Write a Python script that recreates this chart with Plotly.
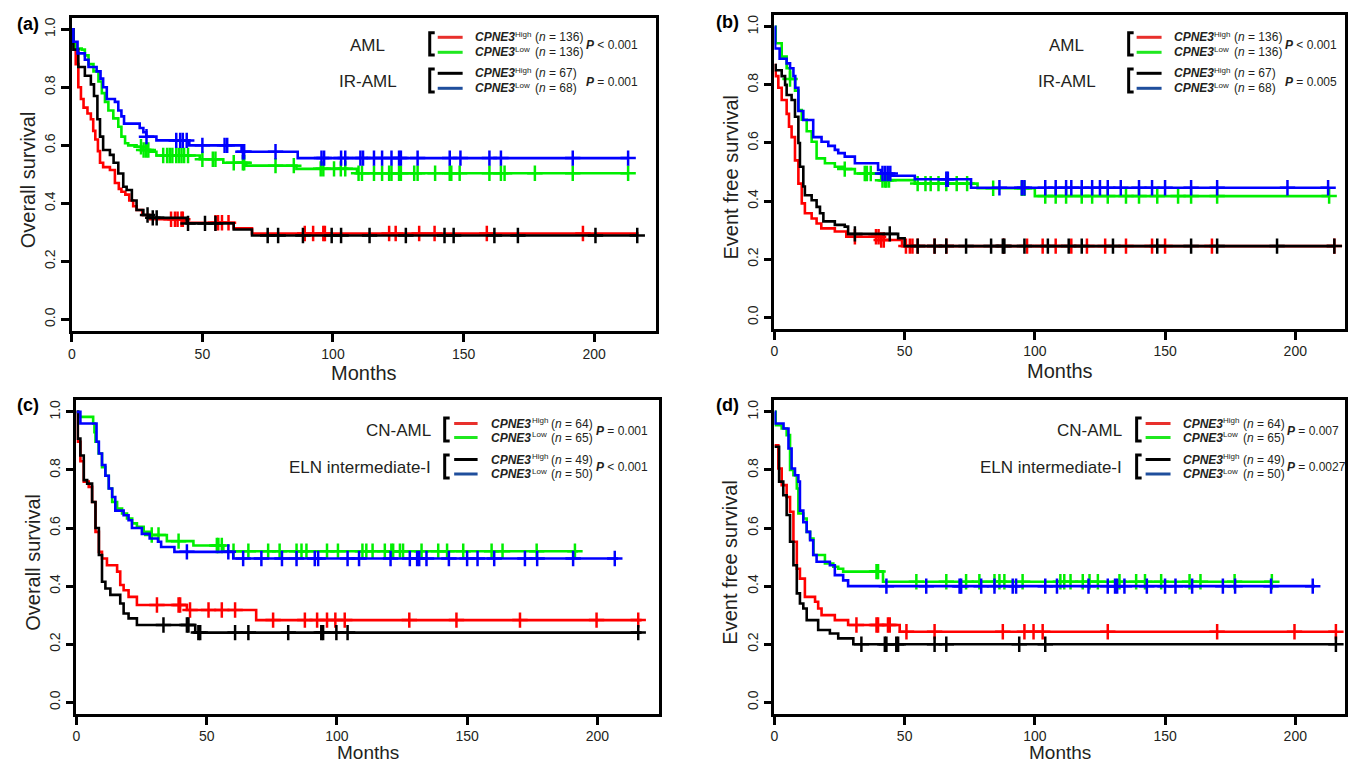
import numpy as np
import plotly.graph_objects as go

# ---------------- data ----------------
X_TICKS = [0, 50, 100, 150, 200]
Y_TICKS = [0.0, 0.2, 0.4, 0.6, 0.8, 1.0]
Y_TICK_TEXT = ["0.0", "0.2", "0.4", "0.6", "0.8", "1.0"]

# Panel (a) Overall survival, AML / IR-AML
A_RED_T = [0, 0.5, 1.5, 2.5, 3.5, 4.5, 6, 7.3, 8.2, 9, 10, 10.8, 12, 14.6, 16.5, 18, 19, 20.5, 22, 23.5, 24.8, 27, 30, 43, 62, 69]
A_RED_S = [1.0, 0.95, 0.88, 0.80, 0.76, 0.73, 0.71, 0.69, 0.65, 0.62, 0.58, 0.54, 0.525, 0.515, 0.47, 0.45, 0.44, 0.43, 0.41, 0.39, 0.377, 0.36, 0.345, 0.333, 0.314, 0.296]
A_RED_C = [38, 39.5, 40.5, 42, 42.5, 55, 56, 57.5, 60, 89.2, 92.4, 96.3, 96.9, 121.5, 124, 133, 138.9, 158.9, 195.7]
A_RED_END = 217

A_GREEN_T = [0, 0.6, 1.3, 3.8, 5, 6.4, 8.3, 10.2, 11.5, 12.7, 14, 15.9, 17.8, 19, 20.4, 21.6, 24.8, 26.7, 30, 32.4, 49, 58, 66.8, 86, 109.2]
A_GREEN_S = [1.0, 0.95, 0.934, 0.93, 0.91, 0.88, 0.855, 0.82, 0.78, 0.75, 0.72, 0.693, 0.664, 0.63, 0.607, 0.60, 0.595, 0.584, 0.578, 0.565, 0.552, 0.54, 0.53, 0.519, 0.504]
A_GREEN_C = [26.5, 27.5, 28.5, 29.3, 35, 36.5, 37.5, 38.5, 40, 41, 42, 43, 44.5, 50, 54, 55, 62, 65.5, 66, 78, 85, 95.3, 96.3,
             100.4, 103, 104.7, 109.8, 111.1, 115.7, 118.8, 121.5, 122.4, 125.3, 126, 131.1, 132.4, 139.1, 144.7, 145.3,
             148.5, 159.9, 164.3, 165.7, 177.3, 191.8, 213]
A_GREEN_END = 213

A_BLACK_T = [0, 0.6, 2.5, 5, 7.3, 8.5, 9.8, 10.8, 12, 14.6, 16, 17.8, 19.7, 21, 23, 24.8, 27.4, 29.5, 44, 62, 69]
A_BLACK_S = [1.0, 0.93, 0.87, 0.84, 0.81, 0.77, 0.69, 0.63, 0.584, 0.567, 0.54, 0.503, 0.457, 0.446, 0.41, 0.377, 0.36, 0.35, 0.331, 0.31, 0.289]
A_BLACK_C = [29, 31, 32.5, 44.5, 51, 55, 75, 79, 88.5, 99.5, 103.1, 114, 127.9, 142.7, 146.2, 161.8, 170.8, 200.5, 216.5]
A_BLACK_END = 216.5

A_BLUE_T = [0, 0.6, 2.2, 5, 6.4, 9.5, 11, 12, 13.4, 16.5, 17.8, 19, 20, 26, 27.4, 28.5, 32.4, 45, 65, 86.5]
A_BLUE_S = [1.0, 0.957, 0.917, 0.895, 0.87, 0.855, 0.83, 0.80, 0.76, 0.75, 0.72, 0.70, 0.675, 0.66, 0.645, 0.63, 0.617, 0.60, 0.578, 0.556]
A_BLUE_C = [28.6, 40, 41.5, 42.5, 44, 50, 58.5, 59.5, 65.5, 66, 78, 95.6, 96.6, 103.1, 104.7, 110.5, 111.5, 115.7, 118.8,
            122.4, 125.3, 126, 132.4, 144.7, 148.8, 159.9, 164.3, 191.8, 213]
A_BLUE_END = 213

# Panel (b) Event free survival, AML / IR-AML
B_RED_T = [0, 0.5, 1.5, 2.8, 4.7, 5.6, 6.6, 7.9, 9.2, 10.5, 11.7, 14.3, 16.2, 18, 23.2, 27.6, 41, 49]
B_RED_S = [0.868, 0.83, 0.79, 0.748, 0.70, 0.656, 0.62, 0.54, 0.46, 0.392, 0.358, 0.34, 0.323, 0.306, 0.295, 0.277, 0.266, 0.245]
B_RED_C = [30.9, 39, 40, 41, 42, 50.5, 52, 53, 55, 61.5, 66, 88, 97, 103, 108, 114, 120, 127, 135, 145, 150, 168, 215]
B_RED_END = 215

B_GREEN_T = [0, 0.5, 2.8, 4.7, 6, 7.9, 9.2, 10.5, 12.4, 14.3, 16.2, 19.4, 23.2, 27, 30.9, 41, 53.9, 78, 100]
B_GREEN_S = [1.0, 0.943, 0.897, 0.857, 0.82, 0.78, 0.713, 0.68, 0.64, 0.604, 0.547, 0.53, 0.518, 0.51, 0.495, 0.472, 0.46, 0.444, 0.417]
B_GREEN_C = [6, 27, 34.7, 35.5, 37, 41.5, 42.5, 43, 44, 55, 58, 60, 63, 66, 70, 74, 84, 95, 96, 104, 108, 112, 118, 122,
             128, 135, 140, 147, 155, 160, 170, 213]
B_GREEN_END = 213

B_BLACK_T = [0, 0.5, 2.8, 4.1, 4.7, 6.6, 7.9, 9.2, 9.8, 11.1, 11.7, 14.3, 16.2, 17.5, 18.8, 23.2, 27, 28.3, 47.5, 50]
B_BLACK_S = [0.868, 0.85, 0.83, 0.80, 0.765, 0.748, 0.69, 0.60, 0.518, 0.45, 0.42, 0.403, 0.38, 0.358, 0.33, 0.318, 0.312, 0.287, 0.272, 0.245]
B_BLACK_C = [30.9, 44.3, 55, 61.5, 66, 73.6, 83.2, 87.7, 88.3, 96, 105, 113, 118, 130, 147, 160, 170, 193, 215]
B_BLACK_END = 215

B_BLUE_T = [0, 0.3, 2, 4.7, 6, 7.3, 8, 9.2, 11.1, 14.9, 18.1, 20.7, 23.2, 24.5, 27, 30.9, 39.8, 41, 45, 53.9, 75.5]
B_BLUE_S = [1.0, 0.925, 0.89, 0.874, 0.857, 0.83, 0.79, 0.71, 0.679, 0.62, 0.604, 0.59, 0.576, 0.565, 0.553, 0.53, 0.507, 0.495, 0.487, 0.475, 0.446]
B_BLUE_C = [41.5, 42.5, 43.5, 44.5, 66, 66.6, 86.4, 95, 96, 104, 108, 112, 114, 118, 122, 125, 128, 133, 140, 145, 150,
            160, 170, 197, 212.6]
B_BLUE_END = 212.6

# Panel (c) Overall survival, CN-AML / ELN intermediate-I
C_RED_T = [0, 0.5, 1.5, 2.8, 4.7, 6, 7.3, 8.6, 9.8, 11.7, 15.6, 16.8, 18.1, 20, 23.2, 42.4, 69]
C_RED_S = [1.0, 0.897, 0.83, 0.76, 0.742, 0.69, 0.587, 0.518, 0.495, 0.472, 0.45, 0.404, 0.386, 0.363, 0.335, 0.318, 0.283]
C_RED_C = [30.9, 39.2, 39.8, 43.6, 50.7, 55.8, 60.9, 75.5, 87.7, 92.4, 96.2, 99.4, 103, 127.8, 145.9, 170.3, 199.7, 215.7]
C_RED_END = 217

C_GREEN_T = [0, 0.9, 6.4, 6.9, 7.3, 8.5, 9.8, 11.1, 12.4, 13.7, 15.6, 17.5, 19.4, 21.4, 23.2, 25.8, 28.3, 34.7, 44.9, 56.4]
C_GREEN_S = [1.0, 0.983, 0.96, 0.93, 0.897, 0.857, 0.81, 0.78, 0.736, 0.69, 0.667, 0.65, 0.633, 0.616, 0.604, 0.587, 0.576, 0.555, 0.54, 0.52]
C_GREEN_C = [28.9, 31.5, 39.2, 53.9, 54.5, 55.8, 60.3, 66, 73.6, 78, 84.5, 86.4, 88.3, 96.2, 100.4, 109.8, 111.3, 113.7,
             118.4, 120.9, 121.6, 124.2, 125.4, 132.5, 138.9, 142.3, 148.5, 159.4, 163.6, 176.7, 191.4]
C_GREEN_END = 192.6

C_BLACK_T = [0, 0.5, 1.5, 2.8, 4.1, 6, 7.3, 8.6, 9.8, 11.1, 13, 16.8, 18.1, 20, 23.2, 45.6]
C_BLACK_S = [1.0, 0.908, 0.85, 0.765, 0.753, 0.69, 0.60, 0.507, 0.415, 0.392, 0.37, 0.34, 0.306, 0.289, 0.266, 0.24]
C_BLACK_C = [33.4, 42.4, 43, 46.8, 47.5, 60.9, 66, 81.3, 94, 94.7, 99.8, 104.1, 215.7]
C_BLACK_END = 217

C_BLUE_T = [0, 1.5, 7.7, 8.6, 9.8, 11.1, 12.4, 13.7, 14.9, 18.1, 20, 21.3, 25.1, 28.1, 31.3, 32.5, 37.6, 60.2]
C_BLUE_S = [1.0, 0.96, 0.897, 0.857, 0.817, 0.78, 0.736, 0.707, 0.66, 0.644, 0.627, 0.60, 0.58, 0.564, 0.553, 0.535, 0.518, 0.495]
C_BLUE_C = [42.4, 58.3, 64, 71, 78.9, 84.5, 91.5, 92.8, 104.1, 108.5, 120.6, 128, 130.8, 131.6, 134.4, 143, 150, 154,
            160.4, 172.2, 176.9, 190.7, 206.7]
C_BLUE_END = 208

# Panel (d) Event free survival, CN-AML / ELN intermediate-I
D_RED_T = [0, 1.5, 2.8, 4.7, 6, 7.3, 8.6, 9.8, 11.7, 15.6, 16.8, 18.1, 23.2, 28.3, 48.1]
D_RED_S = [0.885, 0.805, 0.748, 0.707, 0.656, 0.553, 0.46, 0.426, 0.363, 0.346, 0.323, 0.30, 0.283, 0.266, 0.243]
D_RED_C = [31.5, 39.2, 39.8, 43.6, 44.3, 50.7, 61.5, 87.7, 96, 99.5, 103, 128, 170, 199.7, 215.6]
D_RED_END = 215.6

D_GREEN_T = [0, 0.5, 2.8, 4.7, 6, 7.3, 8.6, 9.2, 11.1, 12.4, 13.7, 15, 19.4, 22.6, 24.5, 26.4, 41.7]
D_GREEN_S = [1.0, 0.954, 0.943, 0.92, 0.80, 0.782, 0.736, 0.65, 0.633, 0.587, 0.564, 0.507, 0.478, 0.467, 0.46, 0.45, 0.415]
D_GREEN_C = [39.2, 39.8, 54.5, 66, 73.6, 78.7, 84.5, 86.4, 88.3, 95.3, 109.8, 111.3, 113.7, 118.4, 121, 124.2, 132.5,
             138.9, 142.3, 148.5, 159.4, 163.6, 176.7, 191]
D_GREEN_END = 191

D_BLACK_T = [0, 1.8, 3.4, 4.7, 6, 7.3, 8.6, 9.8, 11.1, 12.4, 16.8, 21.3, 24.5, 30.3]
D_BLACK_S = [0.88, 0.76, 0.713, 0.645, 0.553, 0.472, 0.375, 0.34, 0.323, 0.283, 0.249, 0.237, 0.22, 0.20]
D_BLACK_C = [33.4, 42.4, 43, 46.8, 47.5, 61.5, 66, 94, 104, 215.6]
D_BLACK_END = 215.6

D_BLUE_T = [0, 0.3, 3.5, 5.4, 6.6, 7.9, 9.2, 9.8, 11.1, 12.4, 13.7, 14.9, 16.2, 21.3, 23.2, 26.4, 28.3]
D_BLUE_S = [1.0, 0.96, 0.943, 0.874, 0.805, 0.782, 0.76, 0.66, 0.62, 0.587, 0.558, 0.507, 0.484, 0.472, 0.438, 0.42, 0.40]
D_BLUE_C = [43, 58.3, 71.1, 71.7, 79.4, 84.5, 91.5, 92.8, 104, 108.5, 120.6, 128, 130.8, 131.6, 134.4, 143, 150, 154,
            160.4, 172.2, 176.9, 190.7, 206.7]
D_BLUE_END = 207.6

# legend texts
GROUPS_AB = ["AML", "IR-AML"]
GROUPS_CD = ["CN-AML", "ELN intermediate-I"]
N_AB = [(136, 136), (67, 68)]
N_CD = [(64, 65), (49, 50)]
P_A = ["< 0.001", "= 0.001"]
P_B = ["< 0.001", "= 0.005"]
P_C = ["= 0.001", "< 0.001"]
P_D = ["= 0.007", "= 0.0027"]

# ---------------- styling / layout ----------------
W, H = 1352, 762
RED, GREEN, BLACK, BLUE = "#ff0000", "#00ee00", "#000000", "#0000ff"
LEG_RED, LEG_GREEN, LEG_BLACK, LEG_BLUE = "#e8302c", "#1fe81f", "#000000", "#1f4e9c"
TXT = "#231f20"
FONT = "Liberation Sans, Arial, sans-serif"


def fx(x):
    return x / W


def fy(y):
    return 1 - y / H


def surv_at(T, S, t):
    i = np.searchsorted(np.asarray(T), t, side="right") - 1
    return S[max(i, 0)]


# panel boxes in pixels: left, right, top, bottom, xmax (months), title offset, title size
PANELS = {
    "a": dict(L=68, R=654, T=17.7, B=331, xmax=223.7, tdy=42, tfs=20),
    "b": dict(L=772.7, R=1345, T=15.1, B=328.9, xmax=219.1, tdy=42, tfs=20),
    "c": dict(L=72.7, R=657, T=400.3, B=713.9, xmax=223.7, tdy=38.6, tfs=19),
    "d": dict(L=772.7, R=1345, T=400.3, B=713.9, xmax=219.1, tdy=38.6, tfs=19),
}

CURVES = {
    "a": [(A_RED_T, A_RED_S, A_RED_C, A_RED_END, RED), (A_GREEN_T, A_GREEN_S, A_GREEN_C, A_GREEN_END, GREEN),
          (A_BLACK_T, A_BLACK_S, A_BLACK_C, A_BLACK_END, BLACK), (A_BLUE_T, A_BLUE_S, A_BLUE_C, A_BLUE_END, BLUE)],
    "b": [(B_RED_T, B_RED_S, B_RED_C, B_RED_END, RED), (B_GREEN_T, B_GREEN_S, B_GREEN_C, B_GREEN_END, GREEN),
          (B_BLACK_T, B_BLACK_S, B_BLACK_C, B_BLACK_END, BLACK), (B_BLUE_T, B_BLUE_S, B_BLUE_C, B_BLUE_END, BLUE)],
    "c": [(C_RED_T, C_RED_S, C_RED_C, C_RED_END, RED), (C_GREEN_T, C_GREEN_S, C_GREEN_C, C_GREEN_END, GREEN),
          (C_BLACK_T, C_BLACK_S, C_BLACK_C, C_BLACK_END, BLACK), (C_BLUE_T, C_BLUE_S, C_BLUE_C, C_BLUE_END, BLUE)],
    "d": [(D_RED_T, D_RED_S, D_RED_C, D_RED_END, RED), (D_GREEN_T, D_GREEN_S, D_GREEN_C, D_GREEN_END, GREEN),
          (D_BLACK_T, D_BLACK_S, D_BLACK_C, D_BLACK_END, BLACK), (D_BLUE_T, D_BLUE_S, D_BLUE_C, D_BLUE_END, BLUE)],
}

fig = go.Figure()
layout = {}
annotations = []
shapes = []

axis_common = dict(showline=True, mirror=True, linecolor="black", linewidth=2.5, ticks="outside",
                   ticklen=8, tickwidth=2.5, tickcolor="black", showgrid=False, zeroline=False,
                   tickfont=dict(family=FONT, size=14, color=TXT))

for k, key in enumerate(["a", "b", "c", "d"]):
    p = PANELS[key]
    sfx = "" if k == 0 else str(k + 1)
    layout["xaxis" + sfx] = dict(axis_common, domain=[fx(p["L"]), fx(p["R"])], range=[0, p["xmax"]],
                                 tickvals=X_TICKS, anchor="y" + sfx)
    layout["yaxis" + sfx] = dict(axis_common, domain=[fy(p["B"]), fy(p["T"])], range=[-0.04, 1.04],
                                 tickvals=Y_TICKS, ticktext=Y_TICK_TEXT, tickangle=-90, anchor="x" + sfx)
    for T, S, C, end, col in CURVES[key]:
        fig.add_trace(go.Scatter(x=list(T) + [end], y=list(S) + [S[-1]], mode="lines",
                                 line=dict(color=col, width=2.6, shape="hv"),
                                 xaxis="x" + sfx, yaxis="y" + sfx, showlegend=False, hoverinfo="skip"))
        fig.add_trace(go.Scatter(x=C, y=[surv_at(T, S, c) for c in C], mode="markers",
                                 marker=dict(symbol="cross-thin", size=11, color=col,
                                             line=dict(color=col, width=2.5)),
                                 xaxis="x" + sfx, yaxis="y" + sfx, showlegend=False, hoverinfo="skip"))
    # axis titles
    cx = (p["L"] + p["R"]) / 2
    ytitle = "Overall survival" if key in ("a", "c") else "Event free survival"
    annotations.append(dict(x=fx(cx), y=fy(p["B"] + p["tdy"]), xref="paper", yref="paper", text="Months",
                            showarrow=False, font=dict(family=FONT, size=p["tfs"], color=TXT),
                            xanchor="center", yanchor="middle"))
    annotations.append(dict(x=fx(p["L"] - 44), y=fy((p["T"] + p["B"]) / 2 + 5), xref="paper", yref="paper",
                            text=ytitle, textangle=-90, showarrow=False,
                            font=dict(family=FONT, size=20, color=TXT), xanchor="center", yanchor="middle"))

# panel letters
for lab, x, y in [("(a)", 24.5, 24), ("(b)", 726, 22.5), ("(c)", 24.5, 405), ("(d)", 726, 405)]:
    annotations.append(dict(x=fx(x), y=fy(y), xref="paper", yref="paper", text="<b>%s</b>" % lab,
                            showarrow=False, font=dict(family=FONT, size=18, color="black"),
                            xanchor="center", yanchor="middle"))


def note(x, y, text, size, anchor="left"):
    annotations.append(dict(x=fx(x), y=fy(y), xref="paper", yref="paper", text=text, showarrow=False,
                            font=dict(family=FONT, size=size, color=TXT), xanchor=anchor, yanchor="middle"))


def legend_block(label, label_x, label_anchor, bx, lx0, lx1, tx, px_, ytop, ybot, yl1, yl2, ylab,
                 c1, c2, n1, n2, ptxt):
    note(label_x, ylab, label, 17, label_anchor)
    shapes.append(dict(type="path", xref="paper", yref="paper",
                       path="M %f %f L %f %f L %f %f L %f %f" % (fx(bx + 5), fy(ytop), fx(bx), fy(ytop),
                                                                 fx(bx), fy(ybot), fx(bx + 5), fy(ybot)),
                       line=dict(color="black", width=3)))
    for yy, col, sub, n in [(yl1, c1, "High", n1), (yl2, c2, "Low", n2)]:
        shapes.append(dict(type="line", xref="paper", yref="paper", x0=fx(lx0), x1=fx(lx1), y0=fy(yy), y1=fy(yy),
                           line=dict(color=col, width=3)))
        note(tx, yy, "<b><i>CPNE3</i></b>", 12)
        note(tx + 41, yy - 3, sub, 8)
        note(tx + 60.5, yy, "(<i>n</i> = %d)" % n, 12)
    note(px_, ylab, "<b><i>P</i></b> %s" % ptxt, 12)


# panel (a) and (b) legends
for dx, pvals in [(0, P_A), (701, P_B)]:
    legend_block(GROUPS_AB[0], 365 + dx, "center", 427 + dx, 435 + dx, 460 + dx, 470 + dx, 582 + dx,
                 32.7, 55, 37.3, 52.3, 45, LEG_RED, LEG_GREEN, N_AB[0][0], N_AB[0][1], pvals[0])
    legend_block(GROUPS_AB[1], 365 + dx, "center", 427 + dx, 435 + dx, 460 + dx, 470 + dx, 582 + dx,
                 69, 92, 73.3, 88.3, 81.7, LEG_BLACK, LEG_BLUE, N_AB[1][0], N_AB[1][1], pvals[1])

# panel (c) and (d) legends
for (rx, bx, lx0, lx1, tx, pxx, pvals) in [(430, 442, 451.5, 475, 486.5, 591.5, P_C),
                                            (1123, 1136, 1145, 1170, 1180, 1285, P_D)]:
    legend_block(GROUPS_CD[0], rx, "right", bx, lx0, lx1, tx, pxx, 418, 441, 423.5, 437.5, 430.5,
                 LEG_RED, LEG_GREEN, N_CD[0][0], N_CD[0][1], pvals[0])
    legend_block(GROUPS_CD[1], rx, "right", bx, lx0, lx1, tx, pxx, 455, 478, 459.5, 474, 467,
                 LEG_BLACK, LEG_BLUE, N_CD[1][0], N_CD[1][1], pvals[1])

fig.update_layout(width=W, height=H, margin=dict(l=0, r=0, t=0, b=0), paper_bgcolor="white",
                  plot_bgcolor="white", showlegend=False, annotations=annotations, shapes=shapes,
                  font=dict(family=FONT, color=TXT), **layout)
fig.write_html("out.html", config={"displayModeBar": False},
               post_script="document.body.style.margin='0px';document.body.style.overflow='hidden';")
